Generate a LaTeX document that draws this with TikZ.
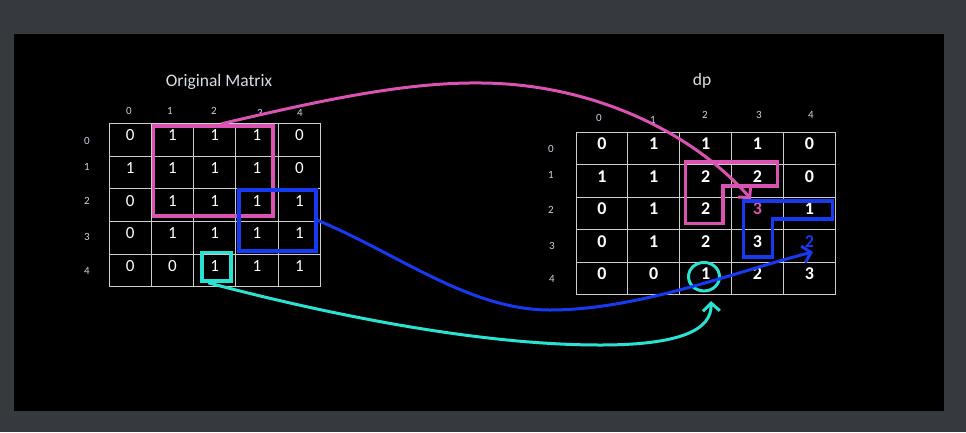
\documentclass[tikz,border=0pt]{standalone}
\usepackage{fontspec}
\setmainfont{Carlito}
\usetikzlibrary{arrows.meta,shapes.geometric}
\definecolor{bgdark}{RGB}{54,57,62}
\definecolor{pinkc}{RGB}{218,82,178}
\definecolor{bluec}{RGB}{22,58,240}
\definecolor{cyanc}{RGB}{42,226,210}
\definecolor{gridc}{RGB}{205,205,205}
\definecolor{hdrc}{RGB}{200,214,230}
\definecolor{titlec}{RGB}{215,222,230}
\tikzset{
  cellL/.style={draw=gridc, line width=0.9pt, minimum width=42.3pt, minimum height=32.7pt, inner sep=0pt},
  cellR/.style={draw=gridc, line width=0.9pt, minimum width=51.85pt, minimum height=32.5pt, inner sep=0pt},
  numL/.style={text=white, inner sep=0pt, font=\fontsize{17}{17}\selectfont},
  numR/.style={text=white, inner sep=0pt, font=\fontsize{18}{18}\selectfont\bfseries},
  hdr/.style={text=hdrc, inner sep=0pt, font=\fontsize{11}{11}\selectfont},
  ttl/.style={text=titlec, inner sep=0pt, font=\fontsize{17.5}{17.5}\selectfont},
  hl/.style={line width=3.6pt},
  conn/.style={line width=3pt, -{Straight Barb[length=8pt,width=17pt,line width=3pt]}}
}
\begin{document}
\begin{tikzpicture}[x=1pt,y=-1pt]
\useasboundingbox (0,0) rectangle (966,432);
\fill[bgdark] (0,0) rectangle (966,432);
\fill[black] (14,34) rectangle (944,411);

% titles
\node[ttl] (tL) at (219,82) {Original Matrix};
\node[ttl] (tR) at (702,81) {dp};

% left matrix
\foreach \row [count=\r from 0] in {{0,1,1,1,0},{1,1,1,1,0},{0,1,1,1,1},{0,1,1,1,1},{0,0,1,1,1}} {
  \foreach \v [count=\c from 0] in \row {
    \node[cellL] (L-\r-\c) at ({109+42.3*\c+21.15},{123.3+32.7*\r+16.35}) {};
    \node[numL] (Lv-\r-\c) at ([yshift=4.5pt]L-\r-\c.center) {\v};
  }
}
% right matrix
\foreach \row [count=\r from 0] in {{0,1,1,1,0},{1,1,2,2,0},{0,1,2,{\color{pinkc}3},1},{0,1,2,3,{\color{bluec}2}},{0,0,1,2,3}} {
  \foreach \v [count=\c from 0] in \row {
    \node[cellR] (R-\r-\c) at ({576+51.85*\c+25.93},{132.3+32.5*\r+16.25}) {};
    \node[numR] (Rv-\r-\c) at ([yshift=4.5pt]R-\r-\c.center) {\v};
  }
}

% left headers
\node[hdr] (lc0) at (129,111) {0};
\node[hdr] (lc1) at (170,111) {1};
\node[hdr] (lc2) at (214,111) {2};
\node[hdr] (lc3) at (260,113) {3};
\node[hdr] (lc4) at (300,113) {4};
\node[hdr] (lr0) at (87,141) {0};
\node[hdr] (lr1) at (87,167) {1};
\node[hdr] (lr2) at (87,201) {2};
\node[hdr] (lr3) at (87,237) {3};
\node[hdr] (lr4) at (87,271) {4};
% right headers
\node[hdr] (rc0) at (599,118) {0};
\node[hdr] (rc1) at (653,120) {1};
\node[hdr] (rc2) at (705,115) {2};
\node[hdr] (rc3) at (759,115) {3};
\node[hdr] (rc4) at (811,115) {4};
\node[hdr] (rr0) at (551,149) {0};
\node[hdr] (rr1) at (551,175) {1};
\node[hdr] (rr2) at (551,210) {2};
\node[hdr] (rr3) at (552,246) {3};
\node[hdr] (rr4) at (552,279) {4};

% highlights, left
\node[draw=pinkc, hl, minimum width=119.4pt, minimum height=90pt, inner sep=0pt] (pinkL) at (213,170.7) {};
\node[draw=bluec, hl, minimum width=77.3pt, minimum height=60.7pt, inner sep=0pt] (blueL) at (277.35,220.35) {};
\node[draw=cyanc, hl, minimum width=28.7pt, minimum height=28.7pt, inner sep=0pt] (cyanL) at (216.35,266.65) {};

% highlights, right
\draw[pinkc, hl, line join=miter] (685.3,161.7) -- (777.3,161.7) -- (777.3,185.7) -- (722.7,185.7) -- (722.7,223.3) -- (685.3,223.3) -- cycle;
\draw[bluec, hl, line join=miter] (743.3,201) -- (832.3,201) -- (832.3,219) -- (772.3,219) -- (772.3,256.7) -- (743.3,256.7) -- cycle;
\node[draw=cyanc, line width=3pt, ellipse, minimum width=31pt, minimum height=28.5pt, inner sep=0pt] (cyanR) at (704,276.7) {};

% connector end points
\coordinate (pinkEnd) at (751,199);
\coordinate (blueEnd) at (813,252);
\coordinate (cyanEnd) at (711,301);

% connectors
\draw[pinkc, conn] ([xshift=8pt]pinkL.north) .. controls (330,98) and (410,82) .. (482,83) .. controls (590,84) and (690,130) .. (pinkEnd);
\draw[bluec, conn] (blueL.east) .. controls (400,255) and (470,310) .. (550,310) .. controls (640,310) and (740,270) .. (blueEnd);
\draw[cyanc, conn] ([xshift=8pt]cyanL.south west) .. controls (330,315) and (480,345) .. (600,345) .. controls (680,345) and (712,330) .. (cyanEnd);
\end{tikzpicture}
\end{document}
